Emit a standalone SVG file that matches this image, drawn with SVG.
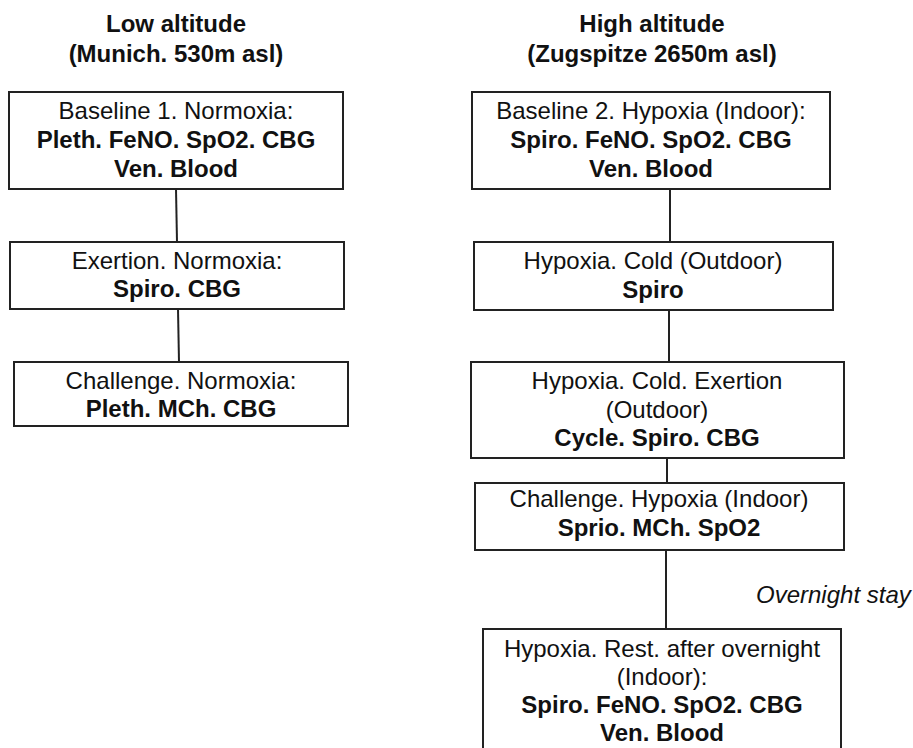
<svg xmlns="http://www.w3.org/2000/svg" width="913" height="748" viewBox="0 0 913 748">
<style>
text{font-family:"Liberation Sans",Arial,sans-serif;font-size:24px;fill:#111;text-anchor:middle}
.b{font-weight:bold}
.i{font-style:italic;text-anchor:start}
rect{fill:#fff;stroke:#222;stroke-width:2}
line{stroke:#222;stroke-width:2}
</style>
<rect x="0" y="0" width="913" height="748" style="stroke:none;fill:#fff"/>
<g id="titles">
<text class="b" x="176" y="32">Low altitude</text>
<text class="b" x="176" y="62">(Munich. 530m asl)</text>
<text class="b" x="652" y="32">High altitude</text>
<text class="b" x="652" y="62">(Zugspitze 2650m asl)</text>
</g>
<g id="connectors">
<line x1="176" y1="189" x2="177" y2="242"/>
<line x1="178" y1="309" x2="179" y2="362"/>
<line x1="670" y1="189" x2="670" y2="242"/>
<line x1="669" y1="310" x2="669" y2="362"/>
<line x1="667" y1="458" x2="667" y2="483"/>
<line x1="666" y1="550" x2="666" y2="629"/>
<text class="i" x="756" y="603">Overnight stay</text>
</g>
<g id="low1">
<rect x="9" y="92" width="334" height="97"/>
<text x="176" y="119">Baseline 1. Normoxia:</text>
<text class="b" x="176" y="148">Pleth. FeNO. SpO2. CBG</text>
<text class="b" x="176" y="177">Ven. Blood</text>
</g>
<g id="low2">
<rect x="10" y="242" width="334" height="67"/>
<text x="177" y="269">Exertion. Normoxia:</text>
<text class="b" x="177" y="297">Spiro. CBG</text>
</g>
<g id="low3">
<rect x="14" y="362" width="334" height="64"/>
<text x="181" y="389">Challenge. Normoxia:</text>
<text class="b" x="181" y="417">Pleth. MCh. CBG</text>
</g>
<g id="high1">
<rect x="472" y="92" width="358" height="97"/>
<text x="651" y="119">Baseline 2. Hypoxia (Indoor):</text>
<text class="b" x="651" y="148">Spiro. FeNO. SpO2. CBG</text>
<text class="b" x="651" y="177">Ven. Blood</text>
</g>
<g id="high2">
<rect x="474" y="242" width="359" height="68"/>
<text x="653" y="269">Hypoxia. Cold (Outdoor)</text>
<text class="b" x="653" y="298">Spiro</text>
</g>
<g id="high3">
<rect x="471" y="362" width="373" height="96"/>
<text x="657" y="389">Hypoxia. Cold. Exertion</text>
<text x="657" y="418">(Outdoor)</text>
<text class="b" x="657" y="446">Cycle. Spiro. CBG</text>
</g>
<g id="high4">
<rect x="475" y="483" width="369" height="67"/>
<text x="659" y="507">Challenge. Hypoxia (Indoor)</text>
<text class="b" x="659" y="536">Sprio. MCh. SpO2</text>
</g>
<g id="high5">
<rect x="483" y="629" width="358" height="130"/>
<text x="662" y="657">Hypoxia. Rest. after overnight</text>
<text x="662" y="685">(Indoor):</text>
<text class="b" x="662" y="713">Spiro. FeNO. SpO2. CBG</text>
<text class="b" x="662" y="741">Ven. Blood</text>
</g>
</svg>
